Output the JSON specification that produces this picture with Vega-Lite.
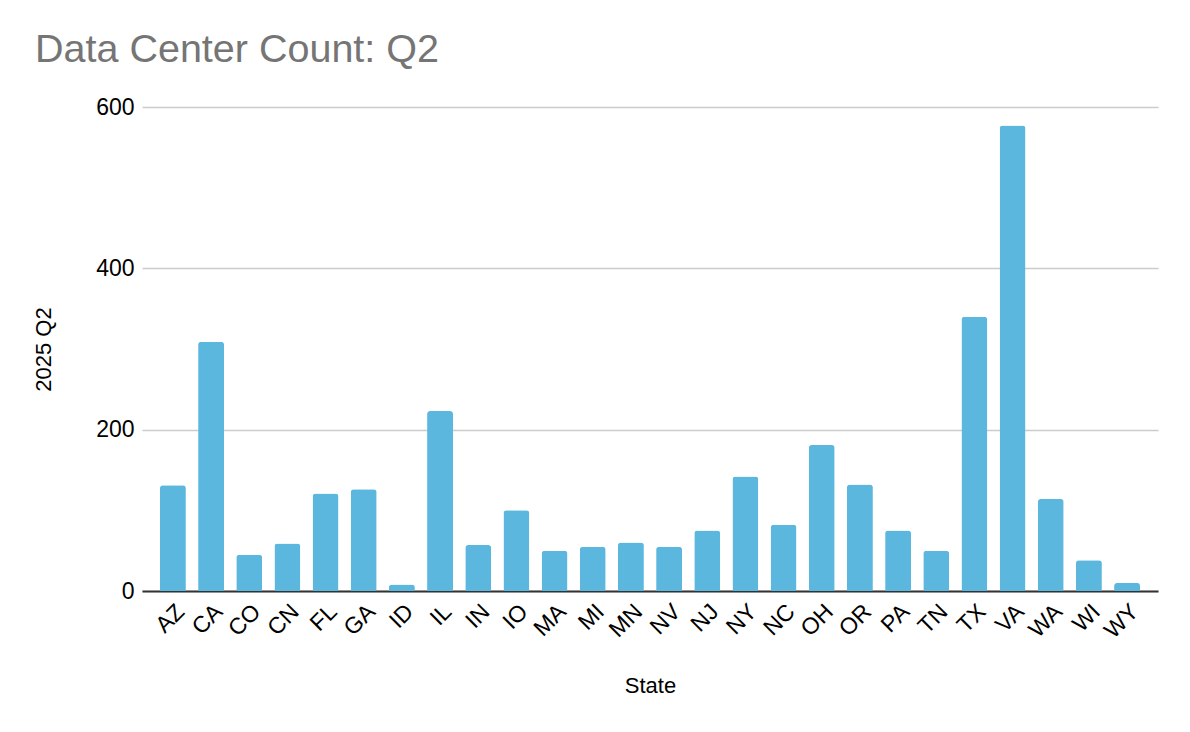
{
  "$schema": "https://vega.github.io/schema/vega-lite/v6.json",
  "autosize": "none",
  "width": 1016,
  "height": 484,
  "padding": {"left": 142, "top": 107, "right": 32, "bottom": 141},
  "background": "white",
  "title": {
    "text": "Data Center Count: Q2",
    "anchor": "start",
    "frame": "group",
    "dx": -107,
    "offset": 26,
    "font": "Liberation Sans",
    "fontSize": 39.5,
    "fontWeight": "normal",
    "color": "#757575"
  },
  "data": {
    "values": [
      {"State": "AZ", "Count": 131},
      {"State": "CA", "Count": 309},
      {"State": "CO", "Count": 45},
      {"State": "CN", "Count": 59},
      {"State": "FL", "Count": 121},
      {"State": "GA", "Count": 126},
      {"State": "ID", "Count": 8},
      {"State": "IL", "Count": 223},
      {"State": "IN", "Count": 57},
      {"State": "IO", "Count": 100},
      {"State": "MA", "Count": 50},
      {"State": "MI", "Count": 55},
      {"State": "MN", "Count": 60},
      {"State": "NV", "Count": 55},
      {"State": "NJ", "Count": 75},
      {"State": "NY", "Count": 142},
      {"State": "NC", "Count": 82},
      {"State": "OH", "Count": 181},
      {"State": "OR", "Count": 132},
      {"State": "PA", "Count": 75},
      {"State": "TN", "Count": 50},
      {"State": "TX", "Count": 340},
      {"State": "VA", "Count": 577},
      {"State": "WA", "Count": 114},
      {"State": "WI", "Count": 38},
      {"State": "WY", "Count": 10}
    ]
  },
  "mark": {
    "type": "bar",
    "color": "#5BB7DE",
    "cornerRadiusTopLeft": 3,
    "cornerRadiusTopRight": 3
  },
  "encoding": {
    "x": {
      "field": "State",
      "type": "nominal",
      "sort": null,
      "scale": {"paddingInner": 0.32, "paddingOuter": 0.47},
      "axis": {
        "title": "State",
        "labelAngle": -45,
        "labelFont": "Liberation Sans",
        "labelFontSize": 23,
        "labelColor": "#000000",
        "labelPadding": 9,
        "ticks": false,
        "domain": true,
        "domainColor": "#333333",
        "domainWidth": 2,
        "titleFont": "Liberation Sans",
        "titleFontSize": 22,
        "titleFontWeight": "normal",
        "titleColor": "#000000",
        "titlePadding": 33
      }
    },
    "y": {
      "field": "Count",
      "type": "quantitative",
      "scale": {"domain": [0, 600]},
      "axis": {
        "title": "2025 Q2",
        "values": [0, 200, 400, 600],
        "labelFont": "Liberation Sans",
        "labelFontSize": 23,
        "labelColor": "#000000",
        "labelPadding": 8,
        "ticks": false,
        "domain": false,
        "grid": true,
        "gridColor": "#cccccc",
        "gridWidth": 1.5,
        "titleFont": "Liberation Sans",
        "titleFontSize": 22,
        "titleFontWeight": "normal",
        "titleColor": "#000000",
        "titlePadding": 40
      }
    }
  },
  "config": {"view": {"stroke": null}}
}
